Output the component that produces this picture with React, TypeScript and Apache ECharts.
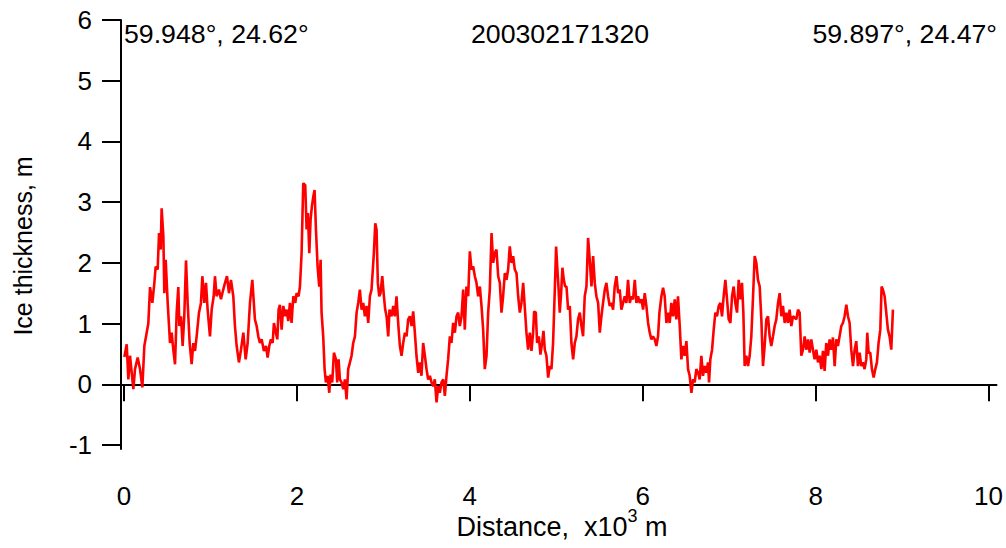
import React, { useEffect, useRef } from "react";
import * as echarts from "echarts";

const FONT = "'Liberation Sans', Arial, Helvetica, sans-serif";

const distanceKm: number[] = [
  0.004, 0.031, 0.050, 0.069, 0.108, 0.127, 0.158, 0.185, 0.212, 0.235, 0.262, 0.281, 0.301, 0.328, 0.351, 0.366, 0.389, 0.405, 0.424, 0.435,
  0.455, 0.466, 0.482, 0.505, 0.532, 0.551, 0.570, 0.590, 0.609, 0.628, 0.640, 0.659, 0.678, 0.697, 0.717, 0.736, 0.759, 0.782, 0.802, 0.821,
  0.840, 0.867, 0.890, 0.906, 0.929, 0.948, 0.967, 0.994, 1.014, 1.037, 1.052, 1.071, 1.098, 1.121, 1.148, 1.168, 1.191, 1.214, 1.237, 1.264,
  1.283, 1.303, 1.329, 1.353, 1.380, 1.407, 1.430, 1.457, 1.484,
  1.514, 1.534, 1.553, 1.572, 1.592, 1.618, 1.642, 1.661, 1.680, 1.699, 1.719, 1.734, 1.757, 1.773, 1.788, 1.803, 1.823, 1.842, 1.865, 1.881,
  1.900, 1.919, 1.938, 1.958, 1.981, 1.996, 2.019, 2.035, 2.054, 2.073, 2.096, 2.112, 2.127, 2.143, 2.158, 2.173, 2.189, 2.204, 2.220, 2.239,
  2.258, 2.274, 2.285, 2.304, 2.320, 2.335, 2.355, 2.374, 2.389, 2.408, 2.428, 2.451, 2.466, 2.482, 2.497, 2.516, 2.536, 2.555, 2.574, 2.593,
  2.613, 2.632, 2.651, 2.671, 2.690, 2.709, 2.728, 2.748, 2.767, 2.786, 2.805, 2.825, 2.844, 2.863, 2.890, 2.906, 2.921, 2.936, 2.952, 2.967,
  2.987, 3.006, 3.021, 3.037, 3.056, 3.071,
  3.094, 3.114, 3.133, 3.152, 3.171, 3.191, 3.210, 3.229, 3.249, 3.268, 3.287, 3.306, 3.326, 3.345, 3.364, 3.383, 3.403, 3.422, 3.441, 3.460,
  3.480, 3.499, 3.518, 3.538, 3.557, 3.576, 3.595, 3.615, 3.634, 3.653, 3.672, 3.692, 3.711, 3.730, 3.749, 3.769, 3.788, 3.807, 3.827, 3.846,
  3.865, 3.884, 3.904, 3.923, 3.942, 3.961, 3.981, 4.000, 4.019, 4.039, 4.058, 4.077, 4.096, 4.116, 4.135, 4.154, 4.173, 4.193, 4.212, 4.231,
  4.251, 4.270, 4.289, 4.308, 4.328, 4.347, 4.366, 4.385, 4.405, 4.424, 4.443, 4.462, 4.482, 4.501, 4.520, 4.540, 4.559, 4.578, 4.597, 4.617,
  4.655, 4.674, 4.694, 4.713, 4.732, 4.744, 4.763, 4.778, 4.798, 4.817, 4.836, 4.852, 4.867, 4.886, 4.906, 4.925, 4.944, 4.963, 4.983, 4.998,
  5.013, 5.025, 5.040, 5.056, 5.071, 5.087, 5.102, 5.118, 5.137, 5.156, 5.175, 5.195, 5.214, 5.233, 5.252, 5.272, 5.291, 5.310, 5.329, 5.349,
  5.368, 5.387, 5.407, 5.426, 5.445, 5.464, 5.484, 5.503, 5.522, 5.541, 5.561, 5.580, 5.599, 5.618, 5.638, 5.657, 5.676, 5.696, 5.715, 5.734,
  5.753, 5.773, 5.792, 5.811, 5.830, 5.850, 5.869, 5.888, 5.908, 5.927, 5.946, 5.965, 5.985, 6.004, 6.023, 6.042, 6.062, 6.081, 6.100, 6.119,
  6.139, 6.158, 6.177, 6.193,
  6.216, 6.235, 6.254, 6.274, 6.293, 6.312, 6.331, 6.351, 6.370, 6.389, 6.408, 6.428, 6.447, 6.466, 6.486, 6.505, 6.524, 6.543, 6.563, 6.582,
  6.601, 6.620, 6.640, 6.659, 6.678, 6.697, 6.717, 6.736, 6.755, 6.767, 6.782, 6.802, 6.821, 6.840, 6.859, 6.879, 6.898, 6.917, 6.936, 6.956,
  6.975, 6.994, 7.014, 7.033, 7.052, 7.071, 7.091, 7.110, 7.129, 7.148, 7.164, 7.179, 7.198, 7.218, 7.237, 7.256, 7.276, 7.295, 7.314, 7.333,
  7.353, 7.372, 7.391, 7.410, 7.430, 7.449, 7.468, 7.487, 7.507, 7.526, 7.545, 7.565, 7.584, 7.603, 7.622, 7.642, 7.661, 7.680, 7.699, 7.719,
  7.738,
  7.777, 7.796, 7.815, 7.834, 7.854, 7.873, 7.892, 7.912, 7.931, 7.950, 7.969, 7.988, 8.008, 8.027, 8.046, 8.066, 8.085, 8.104, 8.123, 8.143,
  8.162, 8.181, 8.200, 8.220, 8.239, 8.258, 8.277, 8.297, 8.316, 8.335, 8.355, 8.374, 8.393, 8.412, 8.432, 8.451, 8.470, 8.489, 8.509, 8.528,
  8.547, 8.566, 8.586, 8.597, 8.613, 8.632, 8.651, 8.671, 8.690, 8.709, 8.728, 8.748, 8.763, 8.778, 8.798, 8.817, 8.836, 8.855, 8.875, 8.894,
];

const iceThicknessM: number[] = [
  0.45, 0.66, 0.08, 0.47, -0.08, 0.25, 0.44, 0.25, -0.05, 0.63, 0.85, 1.00, 1.60, 1.34, 1.67, 1.94, 1.89, 2.49, 2.22, 2.90,
  2.44, 1.50, 2.05, 1.34, 0.68, 0.85, 0.57, 0.33, 1.18, 1.60, 0.96, 1.12, 0.63, 1.12, 2.04, 1.34, 0.68, 0.33, 0.68, 0.55,
  0.79, 1.18, 1.34, 1.78, 1.34, 1.67, 1.23, 0.79, 1.23, 1.45, 1.78, 1.45, 1.56, 1.40, 1.56, 1.67, 1.78, 1.50, 1.72, 1.45,
  0.96, 0.63, 0.36, 0.57, 0.85, 0.41, 0.68, 1.34, 1.72,
  1.07, 0.96, 0.79, 0.68, 0.74, 0.55, 0.63, 0.44, 0.63, 0.74, 0.68, 1.01, 0.85, 0.74, 1.23, 1.31, 0.90, 1.29, 1.12, 1.23,
  1.04, 1.34, 1.01, 1.45, 1.34, 1.50, 1.45, 1.61, 2.16, 3.31, 3.28, 2.55, 2.82, 2.16, 2.71, 2.93, 3.09, 3.20, 2.55, 1.94,
  1.61, 2.05, 1.18, 0.79, 0.25, 0.03, 0.14, -0.14, 0.16, 0.03, 0.52, 0.41, 0.03, 0.41, 0.08, 0.03, -0.08, 0.08, -0.25, 0.25,
  0.36, 0.47, 0.68, 0.79, 1.18, 1.34, 1.56, 1.23, 1.34, 1.12, 1.29, 1.01, 1.45, 1.56, 2.16, 2.65, 2.55, 1.67, 1.45, 1.50,
  1.78, 1.45, 1.23, 1.12, 0.79, 1.23,
  1.12, 1.29, 1.12, 1.45, 1.01, 0.63, 0.47, 0.68, 0.85, 0.79, 1.07, 1.12, 0.96, 1.20, 0.85, 0.47, 0.19, 0.36, 0.14, 0.68,
  0.47, 0.25, 0.08, 0.14, 0.03, -0.03, 0.08, -0.30, -0.03, -0.14, 0.03, 0.08, -0.19, 0.14, 0.41, 0.79, 0.68, 1.01, 0.85, 1.12,
  1.18, 0.96, 1.12, 1.56, 0.90, 1.61, 1.45, 2.19, 1.89, 1.94, 1.78, 1.67, 1.45, 1.61, 1.29, 0.90, 0.25, 0.47, 1.18, 1.56,
  2.49, 2.00, 2.16, 2.22, 1.78, 1.67, 1.18, 1.45, 1.83, 1.72, 1.89, 2.27, 2.00, 2.11, 1.89, 1.83, 1.45, 1.18, 1.34, 1.67,
  0.85, 0.57, 0.85, 0.55, 0.85, 1.20, 1.18, 0.68, 0.79, 0.49, 0.68, 0.88, 0.57, 0.47, 0.11, 0.30, 0.25, 0.68, 1.56, 2.27,
  1.89, 1.61, 1.18, 1.50, 1.92, 1.72, 1.61, 1.61, 1.23, 1.29, 0.68, 0.41, 0.68, 0.79, 1.07, 1.18, 0.96, 0.79, 1.45, 1.61,
  2.41, 2.05, 1.61, 2.11, 1.67, 1.45, 1.34, 0.85, 1.12, 1.34, 1.56, 1.67, 1.45, 1.29, 1.34, 1.23, 1.61, 1.78, 1.50, 1.56,
  1.23, 1.34, 1.45, 1.34, 1.72, 1.34, 1.45, 1.40, 1.72, 1.34, 1.45, 1.34, 1.40, 1.23, 1.50, 1.29, 1.01, 0.85, 0.74, 0.79,
  0.74, 0.63, 0.79, 1.18,
  1.45, 1.59, 1.45, 1.01, 1.18, 1.01, 1.34, 1.12, 1.40, 1.07, 1.45, 0.96, 0.41, 0.63, 0.47, 0.71, 0.25, 0.14, -0.14, 0.08,
  0.03, 0.25, 0.19, 0.08, 0.47, 0.14, 0.30, 0.19, 0.36, 0.03, 0.41, 0.57, 0.90, 1.18, 1.12, 1.29, 1.34, 1.12, 1.45, 1.72,
  1.40, 1.07, 1.01, 1.45, 1.61, 1.34, 1.18, 1.72, 1.40, 1.67, 1.18, 0.30, 0.47, 0.30, 0.47, 0.79, 1.45, 2.11, 2.00, 1.72,
  1.61, 1.07, 0.30, 0.63, 1.07, 1.12, 0.79, 0.63, 0.79, 0.96, 1.07, 1.34, 1.50, 1.12, 1.29, 1.01, 1.18, 1.01, 1.23, 0.96,
  1.12,
  1.07, 1.23, 1.18, 0.47, 0.57, 0.79, 0.57, 0.74, 0.52, 0.74, 0.57, 0.41, 0.57, 0.36, 0.47, 0.25, 0.55, 0.22, 0.68, 0.47,
  0.74, 0.57, 0.77, 0.30, 0.74, 0.63, 0.79, 0.96, 1.01, 1.12, 1.31, 1.12, 1.01, 0.57, 0.30, 0.57, 0.71, 0.30, 0.52, 0.30,
  0.36, 0.25, 0.41, 0.85, 0.52, 0.52, 0.25, 0.11, 0.25, 0.36, 0.68, 0.90, 1.61, 1.56, 1.45, 1.18, 0.90, 0.79, 0.57, 1.23,
];

const xTickValues: number[] = [0, 2, 4, 6, 8, 10];
const yTickValues: number[] = [-1, 0, 1, 2, 3, 4, 5, 6];
const startLabel = "59.948°, 24.62°";
const trackLabel = "200302171320";
const endLabel = "59.897°, 24.47°";
const xTitle = "{n|Distance,  x10}{s|3}{n| m}";
const yTitle = "Ice thickness, m";

export default function App() {
  const ref = useRef<HTMLDivElement>(null);

  useEffect(() => {
    if (!ref.current) return;
    document.body.style.margin = "0";
    const chart = echarts.init(ref.current, null, { renderer: "svg" });
    const data = distanceKm.map((d, i) => [d, iceThicknessM[i]]);
    chart.setOption({
      animation: false,
      backgroundColor: "#ffffff",
      grid: { left: 121, right: 9, top: 20, bottom: 99, containLabel: false },
      xAxis: {
        type: "value",
        min: -0.035,
        max: 10.092,
        axisLine: { show: true, lineStyle: { color: "#000", width: 2 } },
        axisTick: {
          show: true,
          customValues: xTickValues,
          length: 17,
          lineStyle: { color: "#000", width: 2 },
        },
        axisLabel: {
          customValues: xTickValues,
          margin: 34,
          fontSize: 26,
          fontFamily: FONT,
          color: "#000",
        },
        splitLine: { show: false },
      },
      yAxis: {
        type: "value",
        min: -1.066,
        max: 6,
        axisLine: { show: true, onZero: false, lineStyle: { color: "#000", width: 2 } },
        axisTick: {
          show: true,
          customValues: yTickValues,
          length: 19,
          lineStyle: { color: "#000", width: 2 },
        },
        axisLabel: {
          customValues: yTickValues,
          margin: 29,
          fontSize: 26,
          fontFamily: FONT,
          color: "#000",
        },
        splitLine: { show: false },
      },
      graphic: [
        {
          type: "text",
          x: 124,
          y: 34,
          style: { text: startLabel, fontSize: 26.7, fontFamily: FONT, fill: "#000", textAlign: "left", textVerticalAlign: "middle" },
        },
        {
          type: "text",
          x: 560,
          y: 34,
          style: { text: trackLabel, fontSize: 26.7, fontFamily: FONT, fill: "#000", textAlign: "center", textVerticalAlign: "middle" },
        },
        {
          type: "text",
          x: 997,
          y: 34,
          style: { text: endLabel, fontSize: 26.7, fontFamily: FONT, fill: "#000", textAlign: "right", textVerticalAlign: "middle" },
        },
        {
          type: "text",
          x: 23,
          y: 246,
          rotation: Math.PI / 2,
          style: { text: yTitle, fontSize: 25, fontFamily: FONT, fill: "#000", textAlign: "center", textVerticalAlign: "middle" },
        },
        {
          type: "text",
          x: 562,
          y: 527,
          style: {
            text: xTitle,
            textAlign: "center",
            textVerticalAlign: "middle",
            rich: {
              n: { fontSize: 27, fontFamily: FONT, fill: "#000", color: "#000" },
              s: { fontSize: 18, fontFamily: FONT, fill: "#000", color: "#000", padding: [0, 0, 22, 0] },
            },
          },
        },
      ],
      series: [
        {
          type: "line",
          data,
          showSymbol: false,
          symbol: "none",
          lineStyle: { color: "#ff0000", width: 2.6 },
          z: 3,
          markLine: {
            silent: true,
            symbol: "none",
            label: { show: false },
            lineStyle: { color: "#000", width: 2, type: "solid" },
            data: [{ yAxis: 0 }],
            z: 2,
          },
        },
      ],
    });
    return () => chart.dispose();
  }, []);

  return <div ref={ref} style={{ width: 1006, height: 548 }} />;
}
